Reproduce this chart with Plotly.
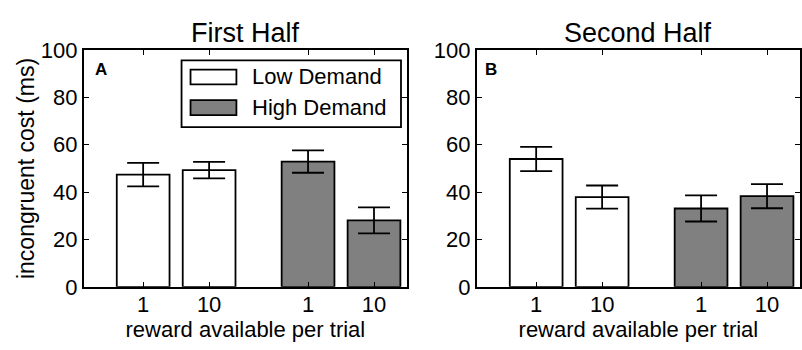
import plotly.graph_objects as go

# ---- data ----
panel_titles = ["First Half", "Second Half"]
panel_letters = ["A", "B"]
group_names = ["Low Demand", "High Demand"]
reward_labels = ["1", "10"]

first_low = [47.4, 49.3]
first_low_err = [5.0, 3.5]
first_high = [52.9, 28.1]
first_high_err = [4.7, 5.5]

second_low = [54.0, 37.9]
second_low_err = [5.1, 4.9]
second_high = [33.1, 38.3]
second_high_err = [5.5, 5.1]

y_ticks = [0, 20, 40, 60, 80, 100]

# ---- layout helpers ----
W, H = 802, 350
FONT = "Liberation Sans"
GRAY = "#808080"


def px(x):
    return x / W


def py(y):
    return 1 - y / H


low_pos = [1, 2]
high_pos = [p + 2.5 for p in low_pos]
tick_pos = low_pos + high_pos
tick_text = reward_labels + reward_labels

panels = [
    (first_low, first_low_err, first_high, first_high_err),
    (second_low, second_low_err, second_high, second_high_err),
]

fig = go.Figure()
for i, (lo, loe, hi, hie) in enumerate(panels):
    xa = "x" if i == 0 else "x2"
    ya = "y" if i == 0 else "y2"
    fig.add_trace(go.Bar(
        x=low_pos, y=lo, width=0.8, name=group_names[0], xaxis=xa, yaxis=ya,
        marker=dict(color="white", line=dict(color="black", width=1.8)),
        error_y=dict(type="data", array=loe, color="black", thickness=1.8, width=16),
        showlegend=False,
    ))
    fig.add_trace(go.Bar(
        x=high_pos, y=hi, width=0.8, name=group_names[1], xaxis=xa, yaxis=ya,
        marker=dict(color=GRAY, line=dict(color="black", width=1.8)),
        error_y=dict(type="data", array=hie, color="black", thickness=1.8, width=16),
        showlegend=False,
    ))

ydom = [py(296), py(41)]
axis_common = dict(
    showline=True, linecolor="black", linewidth=1.8, mirror="ticks",
    ticks="inside", ticklen=5, tickwidth=1.2, tickcolor="black",
    showgrid=False, zeroline=False,
    tickfont=dict(family=FONT, size=22, color="black"),
)
xtitle = dict(text="reward available per trial", font=dict(size=22), standoff=0)

fig.update_layout(
    width=W, height=H,
    margin=dict(l=0, r=0, t=0, b=0),
    paper_bgcolor="white", plot_bgcolor="white",
    barmode="overlay",
    font=dict(family=FONT, color="black"),
    xaxis=dict(domain=[px(84), px(408)], range=[0.1, 5.0],
               tickvals=tick_pos, ticktext=tick_text, anchor="y",
               ticklabelstandoff=-3, title=xtitle, **axis_common),
    yaxis=dict(domain=ydom, range=[0, 100], tickvals=y_ticks, anchor="x",
               title=dict(text="incongruent cost (ms)", font=dict(size=23), standoff=0),
               **axis_common),
    xaxis2=dict(domain=[px(478), 1.0], range=[0.1, 5.0],
                tickvals=tick_pos, ticktext=tick_text, anchor="y2",
                ticklabelstandoff=-3, title=xtitle, **axis_common),
    yaxis2=dict(domain=ydom, range=[0, 100], tickvals=y_ticks, anchor="x2",
                **axis_common),
)

# panel titles and letters
centers = [(84 + 408) / 2, (478 + 802) / 2]
letter_x = [93, 484]
annotations = []
for i in range(2):
    annotations.append(dict(
        text=panel_titles[i], x=px(centers[i]), y=py(23), xref="paper", yref="paper",
        showarrow=False, xanchor="center", yanchor="middle",
        font=dict(family=FONT, size=27, color="black")))
    annotations.append(dict(
        text="<b>" + panel_letters[i] + "</b>", x=px(letter_x[i]), y=py(62),
        xref="paper", yref="paper", showarrow=False, xanchor="left", yanchor="middle",
        font=dict(family=FONT, size=17, color="black")))

# hand-drawn legend (wide swatches like the reference)
shapes = [dict(type="rect", xref="paper", yref="paper",
               x0=px(182), x1=px(402), y0=py(124), y1=py(52),
               line=dict(color="black", width=1.8), fillcolor="white", layer="above")]
legend_rows = [(62, 78, "white"), (95, 111, GRAY)]
for (y0, y1, col), name in zip(legend_rows, group_names):
    shapes.append(dict(type="rect", xref="paper", yref="paper",
                       x0=px(191), x1=px(237), y0=py(y1), y1=py(y0),
                       line=dict(color="black", width=1.8), fillcolor=col, layer="above"))
    annotations.append(dict(
        text=name, x=px(251), y=py((y0 + y1) / 2), xref="paper", yref="paper",
        showarrow=False, xanchor="left", yanchor="middle",
        font=dict(family=FONT, size=22, color="black")))

fig.update_layout(annotations=annotations, shapes=shapes)

fig.write_html("out.html",
               config={"displayModeBar": False},
               post_script="document.body.style.margin='0';document.body.style.overflow='hidden';")
